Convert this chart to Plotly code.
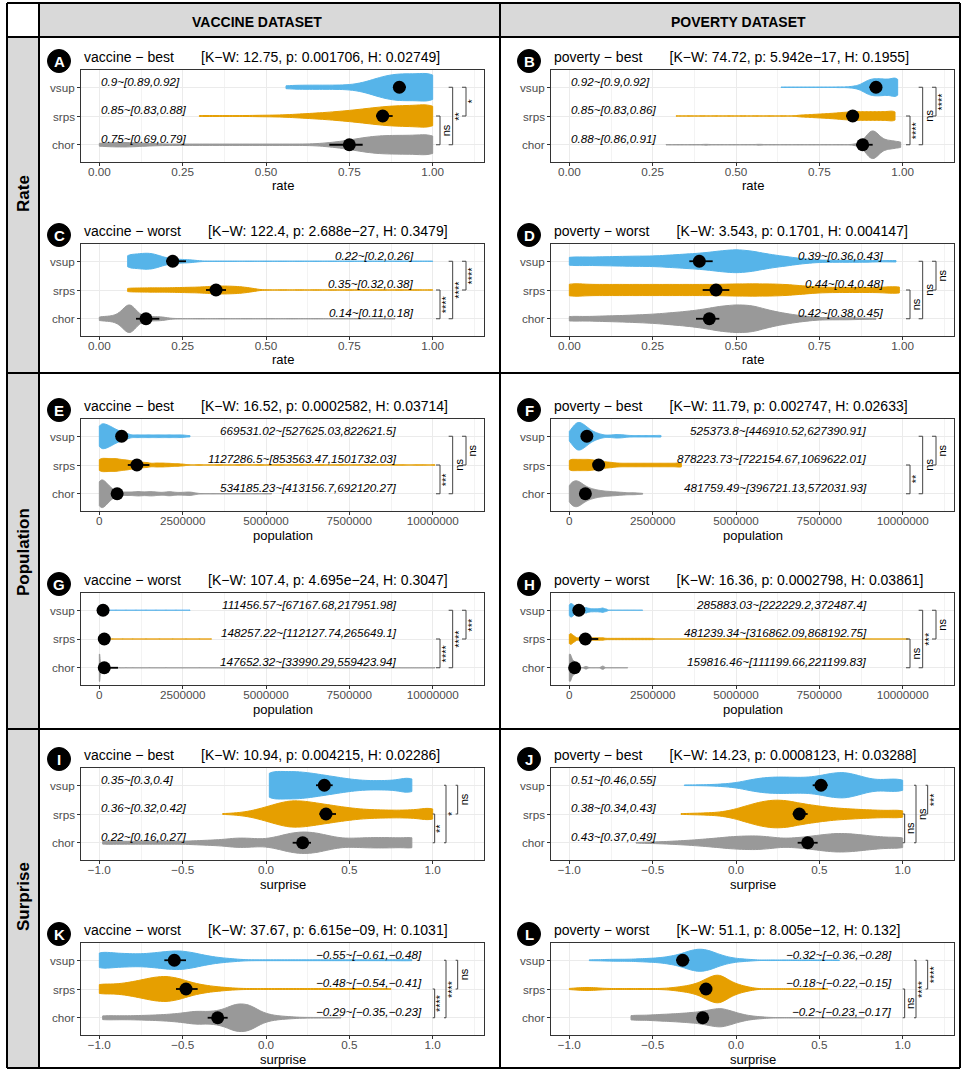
import numpy as np
import plotly.graph_objects as go

# ---------------------------------------------------------------- data
panel_ids = ["A", "B", "C", "D", "E", "F", "G", "H", "I", "J", "K", "L"]
panel_dataset = ["vaccine", "poverty"] * 6
panel_kind = ["best", "best", "worst", "worst"] * 3
panel_measure = ["rate"] * 4 + ["population"] * 4 + ["surprise"] * 4
groups = ["vsup", "srps", "chor"]
row_names = ["Rate", "Population", "Surprise"]
col_names = ["VACCINE DATASET", "POVERTY DATASET"]

kw_stat = [12.75, 74.72, 122.4, 3.543, 16.52, 11.79, 107.4, 16.36, 10.94, 14.23, 37.67, 51.1]
p_value = [0.001706, 5.942e-17, 2.688e-27, 0.1701, 0.0002582, 0.002747, 4.695e-24,
           0.0002798, 0.004215, 0.0008123, 6.615e-09, 8.005e-12]
h_stat = [0.02749, 0.1955, 0.3479, 0.004147, 0.03714, 0.02633, 0.3047, 0.03861,
          0.02286, 0.03288, 0.1031, 0.132]

# mean and CI (order: vsup, srps, chor)
A_mean = [0.9, 0.85, 0.75]; A_lo = [0.89, 0.83, 0.69]; A_hi = [0.92, 0.88, 0.79]
B_mean = [0.92, 0.85, 0.88]; B_lo = [0.9, 0.83, 0.86]; B_hi = [0.92, 0.86, 0.91]
C_mean = [0.22, 0.35, 0.14]; C_lo = [0.2, 0.32, 0.11]; C_hi = [0.26, 0.38, 0.18]
D_mean = [0.39, 0.44, 0.42]; D_lo = [0.36, 0.4, 0.38]; D_hi = [0.43, 0.48, 0.45]
E_mean = [669531.02, 1127286.5, 534185.23]; E_lo = [527625.03, 853563.47, 413156.7]; E_hi = [822621.5, 1501732.03, 692120.27]
F_mean = [525373.8, 878223.73, 481759.49]; F_lo = [446910.52, 722154.67, 396721.13]; F_hi = [627390.91, 1069622.01, 572031.93]
G_mean = [111456.57, 148257.22, 147652.32]; G_lo = [67167.68, 112127.74, 33990.29]; G_hi = [217951.98, 265649.1, 559423.94]
H_mean = [285883.03, 481239.34, 159816.46]; H_lo = [222229.2, 316862.09, 111199.66]; H_hi = [372487.4, 868192.75, 221199.83]
I_mean = [0.35, 0.36, 0.22]; I_lo = [0.3, 0.32, 0.16]; I_hi = [0.4, 0.42, 0.27]
J_mean = [0.51, 0.38, 0.43]; J_lo = [0.46, 0.34, 0.37]; J_hi = [0.55, 0.43, 0.49]
K_mean = [-0.55, -0.48, -0.29]; K_lo = [-0.61, -0.54, -0.35]; K_hi = [-0.48, -0.41, -0.23]
L_mean = [-0.32, -0.18, -0.2]; L_lo = [-0.36, -0.22, -0.23]; L_hi = [-0.28, -0.15, -0.17]

# significance labels (srps-chor, vsup-chor, vsup-srps)
A_sig = ["ns", "**", "*"]
B_sig = ["****", "ns", "****"]
C_sig = ["****", "****", "****"]
D_sig = ["ns", "ns", "ns"]
E_sig = ["***", "ns", "ns"]
F_sig = ["**", "ns", "ns"]
G_sig = ["****", "****", "***"]
H_sig = ["ns", "***", "ns"]
I_sig = ["**", "*", "ns"]
J_sig = ["ns", "ns", "***"]
K_sig = ["****", "****", "ns"]
L_sig = ["ns", "****", "****"]

# violin samples: observed values (x) and how often each value occurs (n)
A_vsup_x = [0.56, 0.60, 0.64, 0.68, 0.72, 0.76, 0.80, 0.84, 0.88, 0.92, 0.96, 1.0]
A_vsup_n = [5, 6, 6, 6, 6, 7, 15, 29, 38, 40, 36, 50]
A_srps_x = [0.30, 0.32, 0.36, 0.40, 0.44, 0.48, 0.52, 0.56, 0.60, 0.64, 0.68, 0.72, 0.76, 0.80,
            0.84, 0.88, 0.92, 0.96, 1.0]
A_srps_n = [1, 1, 1, 1, 1, 2, 2, 3, 5, 7, 9, 12, 15, 19, 23, 26, 27, 27, 35]
A_chor_x = [0.0, 0.04, 0.08, 0.12, 0.16, 0.20, 0.24, 0.28, 0.32, 0.36, 0.40, 0.44, 0.48, 0.52,
            0.56, 0.60, 0.64, 0.68, 0.72, 0.76, 0.80, 0.84, 0.88, 0.92, 0.96, 1.0]
A_chor_n = [5, 6, 7, 5, 3, 2, 2, 2, 2, 2, 2, 2, 2, 2, 2, 2, 2, 5, 9, 15, 22, 26, 27, 27, 27, 35]

B_vsup_x = [0.635, 0.66, 0.69, 0.72, 0.75, 0.78, 0.81, 0.84, 0.855, 0.87, 0.885, 0.90, 0.915,
            0.93, 0.945, 0.96, 0.975, 0.985]
B_vsup_n = [1, 1, 1, 1, 1, 1, 2, 2, 3, 6, 15, 24, 26, 26, 24, 24, 23, 28]
B_srps_x = [0.32, 0.36, 0.40, 0.44, 0.48, 0.52, 0.56, 0.60, 0.64, 0.68, 0.695, 0.71, 0.725, 0.74,
            0.755, 0.77, 0.785, 0.80, 0.815, 0.83, 0.845, 0.86, 0.875, 0.89, 0.905, 0.92, 0.935,
            0.95, 0.965, 0.977]
B_srps_n = [1, 1, 1, 1, 1, 1, 1, 1, 1, 1, 4, 4, 5, 6, 7, 8, 9, 10, 12, 13, 14, 15, 15, 15, 15, 15,
            15, 15, 15, 18]
B_chor_x = [0.29, 0.33, 0.37, 0.41, 0.45, 0.49, 0.53, 0.57, 0.61, 0.65, 0.69, 0.73, 0.77, 0.81,
            0.85, 0.87, 0.885, 0.90, 0.915, 0.93, 0.945, 0.96, 0.975, 0.994]
B_chor_n = [1, 1, 1, 2, 1, 1, 1, 2, 1, 1, 1, 1, 1, 1, 1, 5, 12, 36, 40, 21, 12, 11, 10, 10]

C_vsup_x = [0.085, 0.105, 0.125, 0.145, 0.165, 0.185, 0.205, 0.225, 0.245, 0.265, 0.285, 0.32,
            0.36, 0.40, 0.45, 0.50, 0.55, 0.60, 0.65, 0.70, 0.75, 0.80, 0.85, 0.90, 0.95, 1.0]
C_vsup_n = [24, 22, 25, 27, 24, 16, 10, 7, 6, 5, 4, 1, 1, 1, 1, 1, 1, 1, 1, 1, 1, 1, 1, 1, 1, 1]
C_srps_x = [0.085, 0.105, 0.125, 0.145, 0.165, 0.185, 0.205, 0.225, 0.245, 0.265, 0.285, 0.305,
            0.325, 0.345, 0.365, 0.385, 0.405, 0.425, 0.445, 0.465, 0.50, 0.55, 0.60, 0.65, 0.70,
            0.75, 0.80, 0.85, 0.90, 0.95, 1.0]
C_srps_n = [7, 6, 7, 7, 7, 7, 7, 8, 8, 9, 9, 10, 11, 13, 13, 13, 12, 11, 8, 5, 1, 1, 1, 1, 1, 1,
            1, 1, 1, 1, 1]
C_chor_x = [0.0, 0.015, 0.03, 0.045, 0.06, 0.075, 0.09, 0.105, 0.12, 0.135, 0.15, 0.165, 0.18,
            0.195, 0.23, 0.30, 0.37, 0.44, 0.51, 0.58, 0.65, 0.72, 0.79, 0.85, 0.887]
C_chor_n = [5, 4, 5, 6, 9, 20, 40, 20, 6, 5, 4, 4, 4, 4, 1, 1, 1, 1, 1, 1, 1, 1, 1, 1, 1]

D_vsup_x = [0.0, 0.05, 0.1, 0.15, 0.2, 0.25, 0.3, 0.35, 0.4, 0.45, 0.5, 0.55, 0.6, 0.65, 0.7,
            0.75, 0.8, 0.85, 0.9, 0.98]
D_vsup_n = [14, 12, 13, 14, 15, 15, 18, 21, 24, 30, 35, 30, 20, 14, 7, 3, 3, 3, 3, 3]
D_srps_x = [0.0, 0.05, 0.1, 0.15, 0.2, 0.25, 0.3, 0.35, 0.4, 0.45, 0.5, 0.55, 0.6, 0.65, 0.7,
            0.75, 0.8, 0.85, 0.9, 0.95, 0.99]
D_srps_n = [26, 20, 20, 20, 20, 20, 20, 20, 20, 20, 22, 22, 22, 20, 15, 10, 9, 9, 9, 9, 12]
D_chor_x = [0.0, 0.05, 0.1, 0.15, 0.2, 0.25, 0.3, 0.35, 0.4, 0.45, 0.5, 0.55, 0.6, 0.65, 0.7,
            0.75, 0.8, 0.85, 0.92]
D_chor_n = [8, 6, 8, 9, 11, 13, 17, 21, 27, 36, 41, 39, 24, 15, 8, 3, 3, 3, 2]

E_vsup_x = [0, 100000, 200000, 300000, 400000, 500000, 600000, 700000, 800000, 900000, 1100000,
            1300000, 1500000, 1700000, 1900000, 2100000, 2300000, 2500000, 2720000]
E_vsup_n = [23, 19, 18, 16, 13, 10, 8, 6, 5, 3, 4, 4, 4, 4, 4, 4, 4, 4, 2]
E_srps_x = [0, 100000, 200000, 300000, 400000, 500000, 600000, 700000, 800000, 900000, 1000000,
            1100000, 1200000, 1300000, 1400000, 1500000, 1700000, 1900000, 2100000, 2300000,
            2500000, 3000000, 3600000, 4200000, 4800000, 5400000, 6000000, 6600000, 7200000,
            7800000, 8400000, 9000000, 9600000, 10070000]
E_srps_n = [13, 10, 10, 10, 10, 10, 9, 8, 8, 7, 6, 5, 5, 4, 4, 4, 6, 6, 5, 4, 3, 1, 1, 1, 1, 1,
            1, 1, 1, 1, 1, 1, 1, 1]
E_chor_x = [0, 100000, 200000, 300000, 400000, 500000, 600000, 700000, 800000, 900000, 1000000,
            1100000, 1200000, 1300000, 1400000, 1500000, 1600000, 1700000, 1800000, 1900000,
            2000000, 2100000, 2200000, 2300000, 2400000, 2500000, 2600000, 2700000, 2800000,
            2900000, 3200000, 3500000, 3800000, 4100000, 4400000, 4700000, 5000000, 5170000]
E_chor_n = [45, 35, 28, 18, 10, 7, 4, 4, 4, 4, 4, 5, 6, 4, 4, 5, 6, 4, 3, 3, 4, 6, 4, 3, 3, 3, 4,
            5, 3, 2, 1, 1, 1, 1, 1, 1, 1, 1]

F_vsup_x = [0, 100000, 200000, 300000, 400000, 500000, 600000, 700000, 800000, 900000, 1000000,
            1100000, 1200000, 1300000, 1400000, 1500000, 1600000, 1700000, 1800000, 1900000,
            2000000, 2100000, 2200000, 2300000, 2400000, 2500000, 2600000, 2700000, 2750000]
F_vsup_n = [13, 25, 38, 40, 35, 28, 20, 14, 10, 7, 4, 3, 3, 4, 5, 5, 4, 3, 2, 2, 2, 2, 2, 2, 2, 2,
            2, 2, 2]
F_srps_x = [0, 100000, 200000, 300000, 400000, 500000, 600000, 700000, 800000, 900000, 1000000,
            1100000, 1200000, 1300000, 1400000, 1500000, 1600000, 1700000, 1800000, 1900000,
            2000000, 2100000, 2200000, 2300000, 2400000, 2500000, 2600000, 2700000, 2800000,
            2900000, 3000000, 3100000, 3200000, 3300000, 3360000]
F_srps_n = [18, 16, 16, 16, 16, 16, 16, 15, 13, 11, 10, 9, 8, 7, 6, 5, 5, 5, 5, 5, 5, 5, 5, 5, 5,
            5, 5, 5, 5, 5, 5, 5, 5, 5, 6]
F_chor_x = [0, 100000, 200000, 300000, 400000, 500000, 600000, 700000, 800000, 900000, 1000000,
            1100000, 1200000, 1300000, 1400000, 1500000, 1600000, 1700000, 1800000, 1900000,
            2000000, 2100000, 2200000]
F_chor_n = [20, 25, 28, 25, 20, 15, 12, 10, 8, 7, 6, 5, 5, 4, 4, 3, 3, 2, 2, 2, 2, 1, 1]

G_vsup_x = [0, 20000, 40000, 60000, 80000, 100000, 120000, 140000, 160000, 180000, 200000,
            300000, 500000, 800000, 1100000, 1400000, 1700000, 2000000, 2300000, 2720000]
G_vsup_n = [8, 10, 10, 10, 9, 8, 7, 6, 5, 4, 3, 1, 1, 1, 1, 1, 1, 1, 1, 1]
G_srps_x = [0, 20000, 40000, 60000, 80000, 100000, 120000, 140000, 160000, 180000, 200000,
            220000, 240000, 260000, 400000, 700000, 1000000, 1400000, 1800000, 2200000, 2600000,
            3000000, 3360000]
G_srps_n = [6, 8, 9, 9, 9, 8, 8, 7, 6, 5, 4, 3, 2, 2, 1, 1, 1, 1, 1, 1, 1, 1, 1]
G_chor_x = [0, 12000, 24000, 40000, 60000, 80000, 100000, 150000, 200000, 250000, 300000, 400000,
            600000, 800000, 1000000, 1500000, 2000000, 3000000, 4000000, 5000000, 6000000,
            7000000, 8000000, 9000000, 10070000]
G_chor_n = [60, 45, 15, 5, 4, 4, 4, 3, 3, 2, 2, 1, 1, 1, 1, 1, 1, 1, 1, 1, 1, 1, 1, 1, 1]

H_vsup_x = [0, 25000, 50000, 75000, 100000, 125000, 150000, 175000, 200000, 300000, 400000,
            500000, 600000, 700000, 800000, 900000, 1000000, 1100000, 1300000, 1500000, 1700000,
            1900000, 2200000]
H_vsup_n = [20, 15, 15, 14, 12, 10, 9, 8, 7, 16, 16, 22, 14, 12, 12, 13, 18, 10, 1, 1, 1, 1, 1]
H_srps_x = [0, 25000, 50000, 75000, 100000, 125000, 150000, 175000, 200000, 300000, 400000,
            500000, 600000, 700000, 800000, 900000, 1000000, 1100000, 1200000, 1300000, 1400000,
            1500000, 1600000, 1700000, 1800000, 1900000, 2000000, 2100000, 2200000, 2300000,
            2400000, 2500000, 3000000, 4000000, 5000000, 6000000, 7000000, 8000000, 9000000,
            10170000]
H_srps_n = [29, 21, 18, 15, 12, 10, 9, 8, 8, 16, 16, 16, 16, 16, 16, 16, 16, 8, 8, 8, 8, 8, 8, 8,
            8, 8, 8, 8, 8, 8, 8, 8, 1, 1, 1, 1, 1, 1, 1, 1]
H_chor_x = [0, 12000, 25000, 50000, 75000, 100000, 125000, 150000, 175000, 200000, 250000, 300000,
            400000, 500000, 600000, 800000, 1000000, 1200000, 1500000, 1750000]
H_chor_n = [60, 40, 12, 15, 15, 15, 15, 15, 14, 12, 8, 4, 1, 12, 1, 1, 15, 1, 1, 1]

I_vsup_x = [0.02, 0.10, 0.18, 0.26, 0.34, 0.42, 0.50, 0.58, 0.66, 0.74, 0.82, 0.875]
I_vsup_n = [43, 39, 40, 36, 30, 24, 18, 14, 13, 14, 15, 20]
I_srps_x = [-0.26, -0.18, -0.10, -0.02, 0.06, 0.14, 0.22, 0.30, 0.38, 0.46, 0.54, 0.62, 0.70,
            0.78, 0.86, 0.94, 1.0]
I_srps_n = [1, 3, 8, 18, 30, 40, 39, 33, 27, 21, 16, 13, 12, 11, 12, 13, 17]
I_chor_x = [-0.98, -0.9, -0.82, -0.74, -0.66, -0.58, -0.5, -0.42, -0.34, -0.26, -0.18, -0.10,
            -0.02, 0.06, 0.14, 0.22, 0.30, 0.38, 0.46, 0.54, 0.62, 0.70, 0.78, 0.875]
I_chor_n = [6, 5, 5, 5, 5, 5, 5, 7, 9, 11, 17, 16, 12, 20, 33, 39, 35, 24, 15, 16, 18, 18, 18, 24]

J_vsup_x = [-0.31, -0.23, -0.15, -0.07, 0.01, 0.09, 0.17, 0.25, 0.33, 0.41, 0.49, 0.57, 0.65,
            0.73, 0.81, 0.89, 0.95, 1.0]
J_vsup_n = [1, 1, 2, 4, 8, 17, 23, 25, 24, 23, 27, 36, 40, 30, 18, 15, 12, 15]
J_srps_x = [-0.33, -0.25, -0.17, -0.09, -0.01, 0.07, 0.15, 0.23, 0.31, 0.39, 0.47, 0.55, 0.63,
            0.71, 0.79, 0.87, 0.95, 1.0]
J_srps_n = [1, 2, 3, 5, 12, 23, 33, 38, 36, 28, 23, 18, 15, 13, 11, 10, 8, 8]
J_chor_x = [-0.6, -0.52, -0.44, -0.36, -0.28, -0.2, -0.12, -0.04, 0.04, 0.12, 0.2, 0.28, 0.36,
            0.44, 0.52, 0.6, 0.68, 0.76, 0.84, 0.92, 1.0]
J_chor_n = [1, 2, 3, 5, 7, 10, 13, 17, 19, 20, 17, 12, 14, 18, 23, 27, 26, 22, 18, 15, 17]

K_vsup_x = [-1.0, -0.92, -0.84, -0.76, -0.68, -0.6, -0.52, -0.44, -0.36, -0.28, -0.2, -0.1, 0.0,
            0.1, 0.2, 0.3, 0.4, 0.5, 0.6, 0.7, 0.8, 0.875]
K_vsup_n = [18, 14, 13, 12, 14, 17, 19, 15, 9, 5, 3, 1, 1, 1, 1, 1, 1, 1, 1, 1, 1, 1]
K_srps_x = [-1.0, -0.92, -0.84, -0.76, -0.68, -0.6, -0.52, -0.44, -0.36, -0.28, -0.2, -0.1, 0.0,
            0.1, 0.2, 0.3, 0.4, 0.5, 0.6, 0.75]
K_srps_n = [11, 9, 12, 17, 23, 26, 21, 12, 7, 4, 2, 1, 1, 1, 1, 1, 1, 1, 1, 1]
K_chor_x = [-0.98, -0.9, -0.82, -0.74, -0.66, -0.58, -0.5, -0.42, -0.34, -0.26, -0.18, -0.10,
            -0.02, 0.06, 0.14, 0.25, 0.35, 0.45]
K_chor_n = [6, 5, 5, 6, 7, 9, 12, 18, 15, 20, 38, 36, 12, 5, 3, 1, 1, 1]

L_vsup_x = [-0.88, -0.82, -0.76, -0.70, -0.64, -0.58, -0.52, -0.46, -0.40, -0.34, -0.28, -0.22,
            -0.16, -0.10, -0.04, 0.02, 0.08, 0.2, 0.3, 0.4, 0.5, 0.62]
L_vsup_n = [1, 1, 2, 2, 2, 3, 4, 5, 8, 12, 20, 25, 21, 12, 6, 3, 2, 1, 1, 1, 1, 1]
L_srps_x = [-1.0, -0.94, -0.88, -0.82, -0.76, -0.70, -0.64, -0.58, -0.52, -0.46, -0.40, -0.34,
            -0.28, -0.22, -0.16, -0.10, -0.04, 0.02, 0.08, 0.2, 0.3, 0.4, 0.55]
L_srps_n = [1, 3, 4, 2, 1, 1, 1, 1, 1, 1, 2, 5, 8, 14, 27, 36, 18, 9, 4, 1, 1, 1, 1]
L_chor_x = [-0.63, -0.57, -0.51, -0.45, -0.39, -0.33, -0.27, -0.21, -0.15, -0.09, -0.03, 0.03,
            0.09, 0.15, 0.25, 0.35, 0.45, 0.55, 0.65, 0.77]
L_chor_n = [8, 7, 8, 10, 11, 13, 15, 18, 24, 30, 20, 11, 5, 3, 1, 1, 1, 1, 1, 1]

# ---------------------------------------------------------------- style
FONT = "Liberation Sans, Arial, sans-serif"
COLORS = {"vsup": "#56B4E9", "srps": "#E69F00", "chor": "#999999"}
POS = {"vsup": 3, "srps": 2, "chor": 1}
BW = {"A": 0.03, "B": 0.012, "C": 0.015, "D": 0.03, "E": 100000, "F": 80000, "G": 12000,
      "H": 45000, "I": 0.05, "J": 0.05, "K": 0.05, "L": 0.04}
AX = {
    "rate": dict(range=[-0.055, 1.154], dtick=0.25, minor=0.125, fmt=".2f", top=1.0, span=1.0,
                 br=[0.022, 0.06, 0.10], tip=0.012),
    "population": dict(range=[-550000, 11540000], dtick=2500000, minor=1250000, fmt="d", top=1e7,
                       span=1e7, br=[0.022, 0.06, 0.10], tip=0.012),
    "surprise": dict(range=[-1.11, 1.308], dtick=0.5, minor=0.25, fmt=".1f", top=1.0, span=2.0,
                     br=[0.006, 0.04, 0.075], tip=0.006),
}
W, H = 962, 1072
col_x = [(81, 484), (551, 954)]
row_y = [70, 244, 419, 593, 768, 943]
PH = 92
VIOLIN_FULL = 0.96
NB = "\u00a0"


def fmt(v):
    return str(v).replace("-", "\u2212")


def kde_peak(xs, bw):
    # peak of the gaussian kernel density (same estimator plotly uses), for area scaling
    grid = np.linspace(xs.min(), xs.max(), 800)
    d = np.exp(-0.5 * ((grid[:, None] - xs[None, :]) / bw) ** 2).sum(axis=1)
    return (d / (len(xs) * bw * np.sqrt(2 * np.pi))).max()


g = globals()
fig = go.Figure()
layout = dict(width=W, height=H, autosize=False, margin=dict(l=0, r=0, t=0, b=0, pad=0),
              paper_bgcolor="white", plot_bgcolor="white", showlegend=False,
              violinmode="overlay", font=dict(family=FONT, size=12, color="black"))
shapes, annotations = [], []

# table frame
shapes.append(dict(type="rect", xref="paper", yref="paper", x0=39 / W, x1=960 / W,
                   y0=1 - 37 / H, y1=1 - 3 / H, fillcolor="#D9D9D9", line=dict(width=0), layer="below"))
shapes.append(dict(type="rect", xref="paper", yref="paper", x0=7 / W, x1=39 / W,
                   y0=1 - 1068 / H, y1=1 - 37 / H, fillcolor="#D9D9D9", line=dict(width=0), layer="below"))
for yy in [3, 37, 373, 729, 1068]:
    shapes.append(dict(type="line", xref="paper", yref="paper", x0=7 / W, x1=960 / W,
                       y0=1 - yy / H, y1=1 - yy / H, line=dict(color="black", width=2)))
for xx in [7, 39, 500, 960]:
    shapes.append(dict(type="line", xref="paper", yref="paper", x0=xx / W, x1=xx / W,
                       y0=1 - 1068 / H, y1=1 - 3 / H, line=dict(color="black", width=2)))
for txt, cx in zip(col_names, [257, 738]):
    annotations.append(dict(text="<b>%s</b>" % txt, x=cx / W, y=1 - 22 / H, xref="paper", yref="paper",
                            showarrow=False, xanchor="center", yanchor="middle",
                            font=dict(size=14, color="black", family=FONT)))
for txt, cy in zip(row_names, [194, 552, 897]):
    annotations.append(dict(text="<b>%s</b>" % txt, x=23 / W, y=1 - cy / H, xref="paper", yref="paper",
                            showarrow=False, xanchor="center", yanchor="middle", textangle=-90,
                            font=dict(size=17, color="black", family=FONT)))

for i, P in enumerate(panel_ids):
    r, c = divmod(i, 2)
    n = "" if i == 0 else str(i + 1)
    xr, yr = "x" + n, "y" + n
    x0, x1 = col_x[c]
    y0 = row_y[r]
    y1 = y0 + PH
    m = panel_measure[i]
    a = AX[m]
    span_px = x1 - x0
    rng = a["range"][1] - a["range"][0]
    layout["xaxis" + n] = dict(
        domain=[x0 / W, x1 / W], anchor=yr, range=a["range"], tick0=0, dtick=a["dtick"],
        tickformat=a["fmt"], ticks="outside", ticklen=3, tickwidth=1, tickcolor="#333333",
        ticklabelstandoff=-4,
        tickfont=dict(size=11.7, color="#4D4D4D", family=FONT), showgrid=True, gridcolor="#EBEBEB",
        gridwidth=1, minor=dict(dtick=a["minor"], tick0=0, showgrid=True, gridcolor="#F3F3F3",
                                gridwidth=1, ticks=""),
        showline=True, mirror=True, linecolor="#333333", linewidth=1, zeroline=False, fixedrange=True)
    layout["yaxis" + n] = dict(
        domain=[1 - y1 / H, 1 - y0 / H], anchor=xr, range=[0.4, 3.6], tickmode="array",
        tickvals=[POS[gname] for gname in groups], showticklabels=False, ticks="outside",
        ticklen=3, tickwidth=1, tickcolor="#333333",
        showgrid=True, gridcolor="#EBEBEB", gridwidth=1, showline=True, mirror=True,
        linecolor="#333333", linewidth=1, zeroline=False, fixedrange=True)
    for gname in groups:
        annotations.append(dict(text=gname, x=(x0 - 4.5) / W, y=POS[gname], xref="paper", yref=yr,
                                showarrow=False, xanchor="right", yanchor="middle",
                                font=dict(size=11.7, color="#4D4D4D", family=FONT)))

    # violins, scaled so that every violin of a panel encloses the same area
    samples = {gname: np.repeat(np.array(g[f"{P}_{gname}_x"], dtype=float), g[f"{P}_{gname}_n"])
               for gname in groups}
    peaks = {gname: kde_peak(samples[gname], BW[P]) for gname in groups}
    top_peak = max(peaks.values())
    for gname in groups:
        fig.add_trace(go.Violin(
            x=samples[gname], y0=POS[gname], orientation="h", xaxis=xr, yaxis=yr, side="both",
            fillcolor=COLORS[gname], line=dict(color=COLORS[gname], width=1), opacity=1,
            spanmode="hard", bandwidth=BW[P], width=VIOLIN_FULL * peaks[gname] / top_peak,
            scalegroup=P + gname, scalemode="width",
            points=False, box=dict(visible=False), meanline=dict(visible=False),
            hoverinfo="skip", showlegend=False))

    means = g[f"{P}_mean"]
    lo = g[f"{P}_lo"]
    hi = g[f"{P}_hi"]
    fig.add_trace(go.Scatter(
        x=means, y=[POS[gname] for gname in groups], xaxis=xr, yaxis=yr, mode="markers",
        marker=dict(color="black", size=13),
        error_x=dict(type="data", symmetric=False,
                     array=[h_ - m_ for h_, m_ in zip(hi, means)],
                     arrayminus=[m_ - l_ for m_, l_ in zip(means, lo)],
                     color="black", thickness=1.8, width=0),
        hoverinfo="skip", showlegend=False))

    # mean ~ [CI] labels
    if panel_kind[i] == "best" and m != "population":
        ax_, anc = a["range"][0] + 18 / span_px * rng, "left"
    elif m == "population":
        ax_, anc = 0.9 * a["top"], "right"
    else:
        ax_, anc = a["top"] - 0.05, "right"
    for k, gname in enumerate(groups):
        annotations.append(dict(
            text="<i>%s~[%s,%s]</i>" % (fmt(means[k]), fmt(lo[k]), fmt(hi[k])),
            x=ax_, y=POS[gname] + 0.21, xref=xr, yref=yr, showarrow=False, xanchor=anc,
            yanchor="middle", font=dict(size=11.7, color="black", family=FONT)))

    # significance brackets
    sig = g[f"{P}_sig"]
    bx, by = [], []
    for k, (ga, gb) in enumerate([("srps", "chor"), ("vsup", "chor"), ("vsup", "srps")]):
        xb = a["top"] + a["span"] * a["br"][k]
        tip = a["span"] * a["tip"]
        ya_, yb_ = POS[ga], POS[gb]
        bx += [xb - tip, xb, xb, xb - tip, None]
        by += [ya_, ya_, yb_, yb_, None]
        annotations.append(dict(
            text=sig[k], x=xb + 6 / span_px * rng, y=(ya_ + yb_) / 2, xref=xr, yref=yr,
            showarrow=False, xanchor="center", yanchor="middle", textangle=-90,
            font=dict(size=11, color="black", family=FONT)))
    fig.add_trace(go.Scatter(x=bx, y=by, xaxis=xr, yaxis=yr, mode="lines",
                             line=dict(color="#444444", width=1), hoverinfo="skip",
                             showlegend=False))

    # titles, badge, axis title
    title = "%s \u2212 %s%s[K\u2212W: %s, p: %s, H: %s]" % (
        panel_dataset[i], panel_kind[i], NB * 7, fmt(kw_stat[i]), fmt(p_value[i]), fmt(h_stat[i]))
    annotations.append(dict(text=title, x=(x0 + 1) / W, y=1 - (y0 - 13) / H, xref="paper",
                            yref="paper", showarrow=False, xanchor="left", yanchor="middle",
                            font=dict(size=14, color="black", family=FONT)))
    bcx, bcy, br_ = x0 - 22, y0 - 9, 11.5
    shapes.append(dict(type="circle", xref="paper", yref="paper", x0=(bcx - br_) / W,
                       x1=(bcx + br_) / W, y0=1 - (bcy + br_) / H, y1=1 - (bcy - br_) / H,
                       fillcolor="black", line=dict(color="black", width=1)))
    annotations.append(dict(text="<b>%s</b>" % P, x=bcx / W, y=1 - bcy / H, xref="paper",
                            yref="paper", showarrow=False, xanchor="center", yanchor="middle",
                            font=dict(size=15, color="white", family=FONT)))
    annotations.append(dict(text=m, x=(x0 + x1) / 2 / W, y=1 - (y1 + 24) / H, xref="paper",
                            yref="paper", showarrow=False, xanchor="center", yanchor="middle",
                            font=dict(size=13, color="black", family=FONT)))

layout["shapes"] = shapes
layout["annotations"] = annotations
fig.update_layout(**layout)
fig.write_html("out.html", config={"displayModeBar": False},
               post_script="document.body.style.margin='0px';document.body.style.overflow='hidden';")
